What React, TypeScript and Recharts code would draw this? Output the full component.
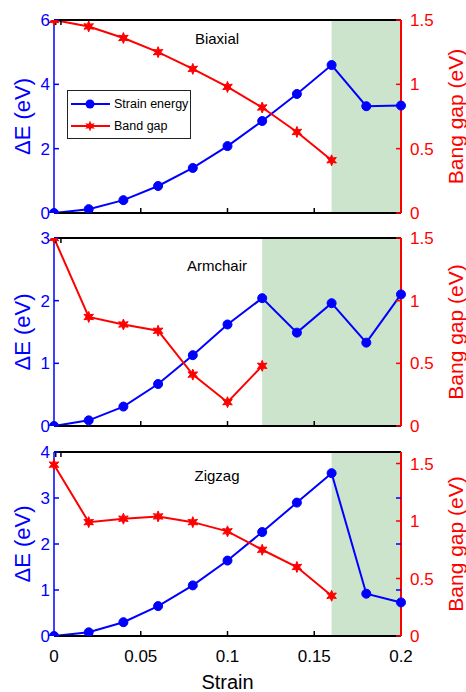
import { ComposedChart, Line, XAxis, YAxis, ReferenceArea, Legend } from "recharts";

const BLUE = "#0000ff";
const RED = "#ff0000";
const GREEN = "#cce3cc";
const FONT = "'Liberation Sans', Arial, sans-serif";

const strain = [0, 0.02, 0.04, 0.06, 0.08, 0.1, 0.12, 0.14, 0.16, 0.18, 0.2];
const strainTicks = [0, 0.05, 0.1, 0.15, 0.2];

const biaxialEnergy = [0, 0.12, 0.4, 0.84, 1.4, 2.08, 2.86, 3.7, 4.6, 3.32, 3.34];
const biaxialGap = [1.5, 1.45, 1.36, 1.25, 1.12, 0.98, 0.82, 0.63, 0.41];

const armchairEnergy = [0, 0.09, 0.31, 0.67, 1.13, 1.62, 2.04, 1.49, 1.96, 1.33, 2.1];
const armchairGap = [1.5, 0.87, 0.81, 0.76, 0.41, 0.19, 0.48];

const zigzagEnergy = [0, 0.08, 0.3, 0.65, 1.1, 1.64, 2.26, 2.9, 3.54, 0.92, 0.73];
const zigzagGap = [1.49, 0.99, 1.02, 1.04, 0.99, 0.91, 0.75, 0.6, 0.35];

const legendOrder = ["energy", "gap"];

const buildRows = (energy: number[], gap: number[]) =>
  strain.map((s, i) => ({ strain: s, energy: energy[i], gap: i < gap.length ? gap[i] : null }));

function starPath(cx: number, cy: number, r1: number, r2: number) {
  const pts: string[] = [];
  for (let k = 0; k < 12; k++) {
    const a = -Math.PI / 2 + (k * Math.PI) / 6;
    const r = k % 2 ? r2 : r1;
    pts.push(`${cx + r * Math.cos(a)},${cy + r * Math.sin(a)}`);
  }
  return pts.join(" ");
}

const StarDot = (props: any) => {
  const { cx, cy, index } = props;
  if (cx == null || cy == null || props.value == null) return <g key={`s-${index}`} />;
  return <polygon key={`s-${index}`} points={starPath(cx, cy, 5.5, 2.6)} fill={RED} stroke={RED} strokeWidth={1} />;
};

const LegendBox = (props: any) => {
  const items = [...(props.payload || [])].sort(
    (a: any, b: any) => legendOrder.indexOf(a.dataKey) - legendOrder.indexOf(b.dataKey)
  );
  return (
    <div style={{ width: 124, height: 49, boxSizing: "border-box", border: "1px solid #222", background: "#fff", paddingTop: 2, fontFamily: FONT, fontSize: 12.5, color: "#000" }}>
      {items.map((it: any) => (
        <div key={it.value} style={{ display: "flex", alignItems: "center", height: 22 }}>
          <svg width={46} height={22}>
            <line x1={3} x2={42} y1={11} y2={11} stroke={it.color} strokeWidth={2} />
            {it.dataKey === "energy" ? (
              <circle cx={22} cy={11} r={4.5} fill={BLUE} />
            ) : (
              <polygon points={starPath(22, 11, 5.5, 2.6)} fill={RED} />
            )}
          </svg>
          <span>{it.value}</span>
        </div>
      ))}
    </div>
  );
};

interface PanelProps {
  top: number;
  height: number;
  xHeight: number;
  energy: number[];
  gap: number[];
  title: string;
  titleY: number;
  leftDomain: number[];
  leftTicks: number[];
  rightDomain: number[];
  rightTicks: number[];
  unstableFrom: number;
  bottomLabels?: boolean;
  legend?: boolean;
  mirrorLeft?: boolean;
}

function Panel(p: PanelProps) {
  const rows = buildRows(p.energy, p.gap);
  const tickFont = { fontSize: 17, fontFamily: FONT };
  return (
    <div style={{ position: "absolute", left: 0, top: p.top, width: 466, height: p.height }}>
      <ComposedChart width={466} height={p.height} data={rows} margin={{ top: 20, right: 0, bottom: 0, left: 0 }}>
        <ReferenceArea xAxisId="x" yAxisId="left" x1={p.unstableFrom} x2={0.2} fill={GREEN} fillOpacity={1} stroke="none" />
        <XAxis
          xAxisId="x"
          dataKey="strain"
          type="number"
          domain={[0, 0.2]}
          ticks={strainTicks}
          height={p.xHeight}
          axisLine={{ stroke: "#000", strokeWidth: 2 }}
          tickLine={{ stroke: "#000", strokeWidth: 1.5 }}
          tickSize={-5}
          tickMargin={19}
          tick={{ ...tickFont, fill: "#000" }}
          tickFormatter={p.bottomLabels ? undefined : () => ""}
          label={p.bottomLabels ? { value: "Strain", position: "insideBottom", offset: 3, style: { fontSize: 20, fontFamily: FONT, fill: "#000" } } : undefined}
        />
        <XAxis
          xAxisId="top"
          orientation="top"
          mirror
          type="number"
          domain={[0, 0.2]}
          ticks={strainTicks}
          allowDataOverflow
          axisLine={{ stroke: "#000", strokeWidth: 2 }}
          tickLine={{ stroke: "#000", strokeWidth: 1.5 }}
          tickSize={5}
          tickFormatter={() => ""}
        />
        <YAxis
          yAxisId="left"
          orientation="left"
          width={54}
          domain={p.leftDomain}
          ticks={p.leftTicks}
          allowDataOverflow
          axisLine={{ stroke: BLUE, strokeWidth: 1.5 }}
          tickLine={{ stroke: BLUE, strokeWidth: 1.5 }}
          tickSize={-5}
          tickMargin={9}
          tick={{ ...tickFont, fill: BLUE }}
          label={{ value: "ΔE (eV)", angle: -90, position: "center", dx: -5, style: { fontSize: 22, fontFamily: FONT, fill: BLUE, textAnchor: "middle" } }}
        />
        <YAxis
          yAxisId="right"
          orientation="right"
          width={65}
          domain={p.rightDomain}
          ticks={p.rightTicks}
          allowDataOverflow
          axisLine={{ stroke: RED, strokeWidth: 2 }}
          tickLine={{ stroke: RED, strokeWidth: 1.5 }}
          tickSize={-5}
          tickMargin={14}
          tick={{ ...tickFont, fill: RED, textAnchor: "start" }}
          label={{ value: "Bang gap (eV)", angle: -90, position: "center", dx: 22, style: { fontSize: 21, fontFamily: FONT, fill: RED, textAnchor: "middle" } }}
        />
        {p.mirrorLeft && (
          <YAxis
            yAxisId="leftMirror"
            orientation="right"
            mirror
            domain={p.leftDomain}
            ticks={p.leftTicks.slice(1, -1)}
            allowDataOverflow
            axisLine={false}
            tickLine={{ stroke: BLUE, strokeWidth: 1.5 }}
            tickSize={5}
            tickFormatter={() => ""}
          />
        )}
        <Line
          xAxisId="x"
          yAxisId="left"
          dataKey="energy"
          name="Strain energy"
          stroke={BLUE}
          strokeWidth={2}
          dot={{ r: 4.5, fill: BLUE, stroke: BLUE, strokeWidth: 1 }}
          isAnimationActive={false}
        />
        <Line
          xAxisId="x"
          yAxisId="right"
          dataKey="gap"
          name="Band gap"
          stroke={RED}
          strokeWidth={2}
          dot={StarDot}
          isAnimationActive={false}
        />
        {p.legend && (
          <Legend
            layout="vertical"
            align="center"
            verticalAlign="middle"
            content={LegendBox}
            wrapperStyle={{ left: 67, top: 90, width: 124, height: 49 }}
          />
        )}
      </ComposedChart>
      <div
        style={{
          position: "absolute",
          left: 217,
          top: p.titleY,
          transform: "translate(-50%, -50%)",
          fontFamily: FONT,
          fontSize: 15,
          color: "#000",
          whiteSpace: "nowrap",
        }}
      >
        {p.title}
      </div>
    </div>
  );
}

export default function App() {
  return (
    <div style={{ position: "absolute", left: 0, top: 0, width: 466, height: 692, background: "#fff" }}>
      <Panel
        top={0}
        height={240}
        xHeight={27}
        energy={biaxialEnergy}
        gap={biaxialGap}
        title="Biaxial"
        titleY={38}
        leftDomain={[0, 6]}
        leftTicks={[0, 2, 4, 6]}
        rightDomain={[0, 1.5]}
        rightTicks={[0, 0.5, 1, 1.5]}
        unstableFrom={0.16}
        legend
      />
      <Panel
        top={218}
        height={235}
        xHeight={27}
        energy={armchairEnergy}
        gap={armchairGap}
        title="Armchair"
        titleY={47}
        leftDomain={[0, 3]}
        leftTicks={[0, 1, 2, 3]}
        rightDomain={[0, 1.5]}
        rightTicks={[0, 0.5, 1, 1.5]}
        unstableFrom={0.12}
      />
      <Panel
        top={432}
        height={260}
        xHeight={56}
        energy={zigzagEnergy}
        gap={zigzagGap}
        title="Zigzag"
        titleY={43}
        leftDomain={[0, 4]}
        leftTicks={[0, 1, 2, 3, 4]}
        rightDomain={[0, 1.6]}
        rightTicks={[0, 0.5, 1, 1.5]}
        unstableFrom={0.16}
        bottomLabels
        mirrorLeft
      />
    </div>
  );
}
